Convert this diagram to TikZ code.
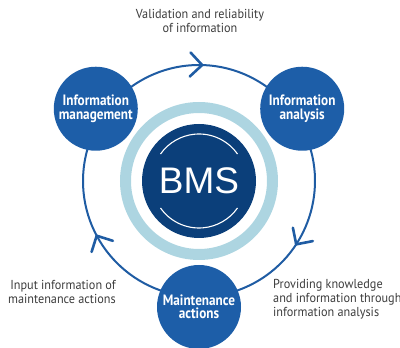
\documentclass[tikz,border=0pt]{standalone}
\usepackage{fontspec}
\setmainfont{PT Sans}
\newfontfamily\labelfont{PT Sans}[FakeStretch=0.94]
\newfontfamily\bubblefont{PT Sans}[FakeStretch=0.88]
\newfontfamily\bmsfont{Liberation Sans}
\usetikzlibrary{arrows.meta,decorations.markings}

\definecolor{nodeblue}{HTML}{1D5EA8}
\definecolor{cycleblue}{HTML}{1F5CA3}
\definecolor{bmsblue}{HTML}{0B3F7A}
\definecolor{ringblue}{HTML}{ADD5E1}
\definecolor{labelgray}{HTML}{3C3C3C}

\tikzset{
  cyc/.style={draw=cycleblue, line width=2pt, postaction=decorate,
    decoration={markings, mark=at position #1 with
      {\arrow[line width=2.6pt, cycleblue]{Straight Barb[length=12pt,width=24pt,round]}}}},
  bubble/.style={circle, fill=nodeblue, minimum size=84pt, inner sep=0pt,
    text=white, align=center, font=\bubblefont\bfseries\fontsize{15}{13.5}\selectfont},
  lbl/.style={text=labelgray, inner sep=0pt, font=\labelfont\fontsize{13}{14}\selectfont}
}

\begin{document}
\begin{tikzpicture}[x=1pt,y=1pt]
\useasboundingbox (0,0) rectangle (400,348);
\coordinate (C) at (199,167);

% cycle of three arcs, clockwise
\draw[cyc=0.52, shift={(C)}] (145:116) arc[start angle=145, end angle=35, radius=116];
\draw[cyc=0.55, shift={(C)}] (35:116) arc[start angle=35, end angle=-90, radius=116];
\draw[cyc=0.5, shift={(C)}] (270:116) arc[start angle=270, end angle=145, radius=116];

% central BMS disc with light ring
\node[circle, draw=ringblue, line width=11pt, minimum size=147pt, inner sep=0pt] (ring) at (C) {};
\node[circle, fill=bmsblue, minimum size=114pt, inner sep=0pt, text=white,
      font=\bmsfont\fontsize{37}{37}\selectfont] (bms) at (C) {BMS};
\draw[white, line width=1.1pt, shift={(C)}] (35:47) arc[start angle=35, end angle=145, radius=47];
\draw[white, line width=1.1pt, shift={(C)}] (215:47) arc[start angle=215, end angle=325, radius=47];

% process nodes
\node[bubble] (mgmt) at ([shift={(145:126)}]C) {Information\\management};
\node[bubble] (analysis) at ([shift={(35:126)}]C) {Information\\analysis};
\node[bubble] (maint) at ([shift={(270:126)}]C) {Maintenance\\actions};

% step labels
\node[lbl, align=center] (validation) at (200,327) {Validation and reliability\\of information};
\node[lbl, align=right, anchor=east] (input) at (116,56) {Input information of\\maintenance actions};
\node[lbl, align=left, anchor=west] (providing) at (273,49) {Providing knowledge\\and information through\\information analysis};
\end{tikzpicture}
\end{document}
